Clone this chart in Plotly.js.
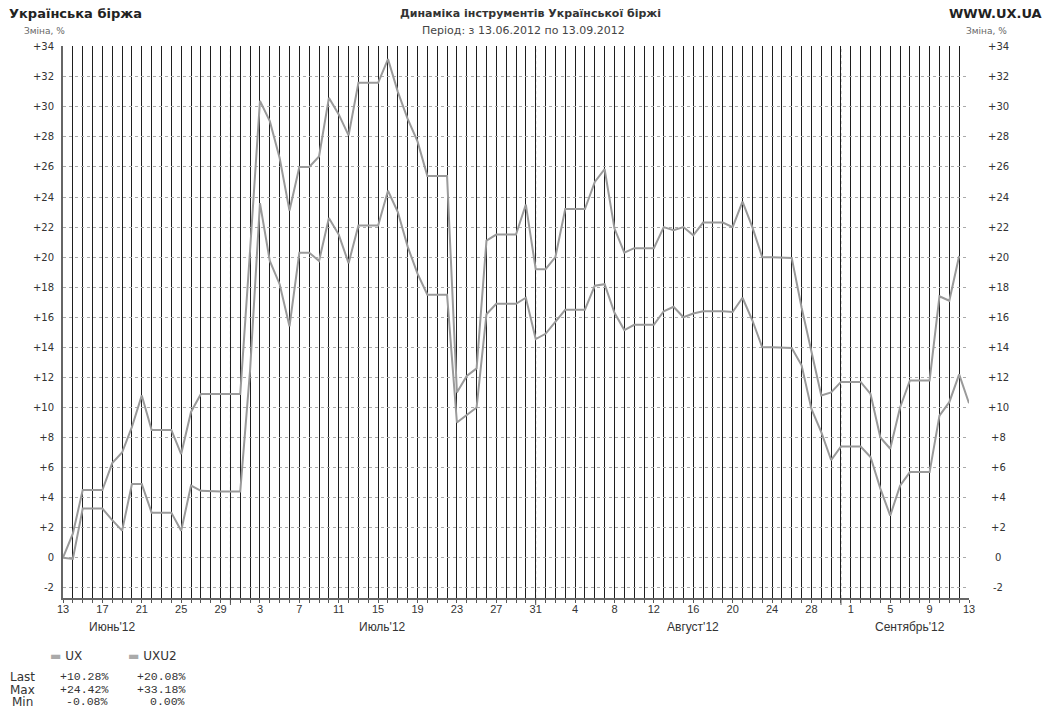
<!DOCTYPE html>
<html>
<head>
<meta charset="utf-8">
<script src="https://cdn.plot.ly/plotly-3.0.1.min.js"></script>
<style>html,body{margin:0;padding:0;background:#fff;}#chart{width:1051px;height:716px;}</style>
</head>
<body>
<div id="chart"></div>
<script>
// ---- data ----
const startDate = '2012-06-13';
const uxLabel = 'UX';
const uxu2Label = 'UXU2';
const ux = [0, -0.08, 3.27, 3.27, 3.27, 2.5, 1.8, 4.9, 4.9, 3.0, 3.0, 3.0, 1.8, 4.8, 4.45, 4.4, 4.4, 4.4, 4.4,
  12.5, 23.6, 19.75, 18.2, 15.4, 20.3, 20.3, 19.75, 22.6, 21.5, 19.6, 22.1, 22.1, 22.1, 24.42, 23.0, 20.7, 18.9,
  17.5, 17.5, 17.5, 9.0, 9.5, 10.0, 16.2, 16.9, 16.9, 16.9, 17.3, 14.55,
  14.9, 15.7, 16.5, 16.5, 16.5, 18.1, 18.2, 16.3, 15.15, 15.5, 15.5, 15.5, 16.4, 16.7, 16.0, 16.25, 16.4, 16.4,
  16.4, 16.35, 17.3, 15.8, 14.0, 14.0, 14.0, 13.95, 12.8, 9.9, 8.35, 6.5, 7.4,
  7.4, 7.4, 6.7, 4.6, 2.8, 4.8, 5.7, 5.7, 5.7, 9.45, 10.35, 12.2, 10.28];
const uxu2 = [0, 1.6, 4.5, 4.5, 4.5, 6.3, 7.0, 8.7, 10.8, 8.5, 8.5, 8.5, 6.9, 9.7, 10.9, 10.9, 10.9, 10.9, 10.9,
  20.5, 30.4, 29.05, 26.6, 23.1, 26.0, 26.0, 26.7, 30.6, 29.5, 28.1, 31.6, 31.6, 31.6, 33.18, 31.0, 29.2, 27.7,
  25.4, 25.4, 25.4, 11.0, 12.1, 12.6, 21.1, 21.5, 21.5, 21.5, 23.5, 19.2,
  19.2, 20.0, 23.2, 23.2, 23.2, 25.0, 25.85, 21.9, 20.3, 20.6, 20.6, 20.6, 22.0, 21.8, 22.0, 21.45, 22.3, 22.3,
  22.3, 22.0, 23.7, 22.0, 20.0, 20.0, 20.0, 19.95, 16.65, 13.65, 10.8, 11.0, 11.7,
  11.7, 11.7, 10.9, 8.0, 7.25, 10.0, 11.8, 11.8, 11.8, 17.4, 17.1, 20.08, null];
const xTickDates = ['2012-06-13','2012-06-17','2012-06-21','2012-06-25','2012-06-29',
  '2012-07-03','2012-07-07','2012-07-11','2012-07-15','2012-07-19','2012-07-23','2012-07-27','2012-07-31',
  '2012-08-04','2012-08-08','2012-08-12','2012-08-16','2012-08-20','2012-08-24','2012-08-28',
  '2012-09-01','2012-09-05','2012-09-09','2012-09-13'];
const monthEnds = ['2012-06-30','2012-07-31','2012-08-31'];
const monthLabels = ["Июнь'12", "Июль'12", "Август'12", "Сентябрь'12"];
const monthLabelDates = ['2012-06-18', '2012-07-15 10:00', '2012-08-16', '2012-09-07'];
const yTicks = [-2, 0, 2, 4, 6, 8, 10, 12, 14, 16, 18, 20, 22, 24, 26, 28, 30, 32, 34];
const statNames = ['Last', 'Max', 'Min'];
const titleLeft = 'Українська біржа';
const titleRight = 'WWW.UX.UA';
const titleMain = 'Динаміка інструментів Української біржі';
const titleSub = 'Період: з 13.06.2012 по 13.09.2012';
const axisUnit = 'Зміна, %';

// ---- build ----
const s0 = new Date(startDate + 'T00:00:00Z');
const dates = ux.map((_, i) => new Date(s0.getTime() + i * 86400000).toISOString().slice(0, 10));
const yTickText = yTicks.map(v => v > 0 ? '+' + v : String(v));

const L = 63, R = 969, T = 46, B = 598, W = 1051, H = 716;
const px = x => (x - L) / (R - L);
const py = y => (B - y) / (B - T);

const lineColor = '#9a9a9a';
const traces = [
  {x: dates, y: ux, name: uxLabel, type: 'scatter', mode: 'lines', line: {color: lineColor, width: 2}, hoverinfo: 'x+y+name'},
  {x: dates, y: uxu2, name: uxu2Label, type: 'scatter', mode: 'lines', line: {color: lineColor, width: 2}, hoverinfo: 'x+y+name', connectgaps: false}
];

const fmt = v => {
  const s = Math.abs(v).toFixed(2) + '%';
  if (v > 0) return '+' + s;
  if (v < 0) return '-' + s;
  return s;
};
const validLast = arr => { for (let i = arr.length - 1; i >= 0; i--) if (arr[i] !== null) return arr[i]; return null; };
const stats = arr => { const a = arr.filter(v => v !== null); return [validLast(arr), Math.max(...a), Math.min(...a)]; };
const uxStats = stats(ux), uxu2Stats = stats(uxu2);

const sans = 'DejaVu Sans, Verdana, sans-serif';
const mono = 'Liberation Mono, Courier New, monospace';
const ann = [];
ann.push({xref: 'paper', yref: 'paper', x: px(7), y: py(13), xanchor: 'left', yanchor: 'middle', text: '<b>' + titleLeft + '</b>', showarrow: false, font: {family: sans, size: 13, color: '#222'}});
ann.push({xref: 'paper', yref: 'paper', x: px(1044), y: py(13), xanchor: 'right', yanchor: 'middle', text: '<b>' + titleRight + '</b>', showarrow: false, font: {family: sans, size: 13, color: '#222'}});
ann.push({xref: 'paper', yref: 'paper', x: px(530), y: py(13), xanchor: 'center', yanchor: 'middle', text: '<b>' + titleMain + '</b>', showarrow: false, font: {family: sans, size: 11, color: '#333'}});
ann.push({xref: 'paper', yref: 'paper', x: px(523), y: py(30), xanchor: 'center', yanchor: 'middle', text: titleSub, showarrow: false, font: {family: sans, size: 11, color: '#444'}});
ann.push({xref: 'paper', yref: 'paper', x: px(22), y: py(31), xanchor: 'left', yanchor: 'middle', text: axisUnit, showarrow: false, font: {family: sans, size: 9, color: '#666'}});
ann.push({xref: 'paper', yref: 'paper', x: px(964), y: py(31), xanchor: 'left', yanchor: 'middle', text: axisUnit, showarrow: false, font: {family: sans, size: 9, color: '#666'}});
// right axis labels
yTicks.forEach((v, k) => ann.push({xref: 'paper', yref: 'y', x: px(998), y: v, xanchor: 'center', yanchor: 'middle', text: yTickText[k], showarrow: false, font: {family: sans, size: 10, color: '#333'}}));
// month labels
monthLabels.forEach((m, k) => ann.push({xref: 'x', yref: 'paper', x: monthLabelDates[k], y: py(627), xanchor: 'center', yanchor: 'middle', text: m, showarrow: false, font: {family: 'Liberation Sans, Arial, sans-serif', size: 12, color: '#333'}}));
// legend
[[uxLabel, 48], [uxu2Label, 126]].forEach(([n, x0]) => {
  ann.push({xref: 'paper', yref: 'paper', x: px(x0), y: py(656), xanchor: 'left', yanchor: 'middle', text: '<span style="color:#aaa">▬</span> ' + n, showarrow: false, font: {family: sans, size: 12, color: '#333'}});
});
// stats table
const rowsY = [676, 689, 701];
statNames.forEach((nm, r) => {
  ann.push({xref: 'paper', yref: 'paper', x: px(22), y: py(rowsY[r] + 1), xanchor: 'center', yanchor: 'middle', text: nm, showarrow: false, font: {family: sans, size: 12, color: '#333'}});
  ann.push({xref: 'paper', yref: 'paper', x: px(110), y: py(rowsY[r]), xanchor: 'right', yanchor: 'middle', text: fmt(uxStats[r]), showarrow: false, font: {family: mono, size: 11.5, color: '#333'}});
  ann.push({xref: 'paper', yref: 'paper', x: px(187), y: py(rowsY[r]), xanchor: 'right', yanchor: 'middle', text: fmt(uxu2Stats[r]), showarrow: false, font: {family: mono, size: 11.5, color: '#333'}});
});

const shapes = [];
monthEnds.forEach(d => {
  shapes.push({type: 'line', xref: 'x', yref: 'paper', x0: d, x1: d, y0: 0, y1: 1, layer: 'between', line: {color: '#fff', width: 2}});
  shapes.push({type: 'line', xref: 'x', yref: 'paper', x0: d, x1: d, y0: 0, y1: 1, layer: 'between', line: {color: '#aaa', width: 1, dash: 'dot'}});
  shapes.push({type: 'line', xref: 'x', yref: 'paper', x0: d, x1: d, y0: 0, y1: py(605), layer: 'above', line: {color: '#555', width: 1}});
});

const layout = {
  width: W, height: H,
  margin: {l: L, r: W - R, t: T, b: H - B, pad: 0},
  paper_bgcolor: '#fff', plot_bgcolor: '#fff',
  showlegend: false,
  font: {family: sans, size: 10, color: '#333'},
  xaxis: {
    type: 'date', range: [startDate, dates[dates.length - 1]],
    tickvals: xTickDates, tickformat: '%-d',
    tickfont: {family: 'Liberation Sans, Arial, sans-serif', size: 11, color: '#333'},
    ticks: '',
    showgrid: true, gridcolor: '#1e1e1e', gridwidth: 1,
    minor: {dtick: 86400000, tick0: startDate, showgrid: true, gridcolor: '#1e1e1e', gridwidth: 1, ticks: 'outside', ticklen: 3, tickcolor: '#555'},
    showline: true, linecolor: '#666', linewidth: 2,
    zeroline: false, fixedrange: true
  },
  yaxis: {
    range: [-2.68, 34.05],
    tickvals: yTicks, ticktext: yTickText,
    tickfont: {family: sans, size: 10, color: '#333'},
    ticks: 'outside', ticklen: 5, tickcolor: 'rgba(0,0,0,0)',
    showgrid: true, gridcolor: '#aaa', gridwidth: 1, griddash: 'dot',
    showline: true, linecolor: '#666', linewidth: 2,
    zeroline: false, fixedrange: true
  },
  annotations: ann,
  shapes: shapes
};

Plotly.newPlot('chart', traces, layout, {displayModeBar: false, staticPlot: true});
</script>
</body>
</html>
